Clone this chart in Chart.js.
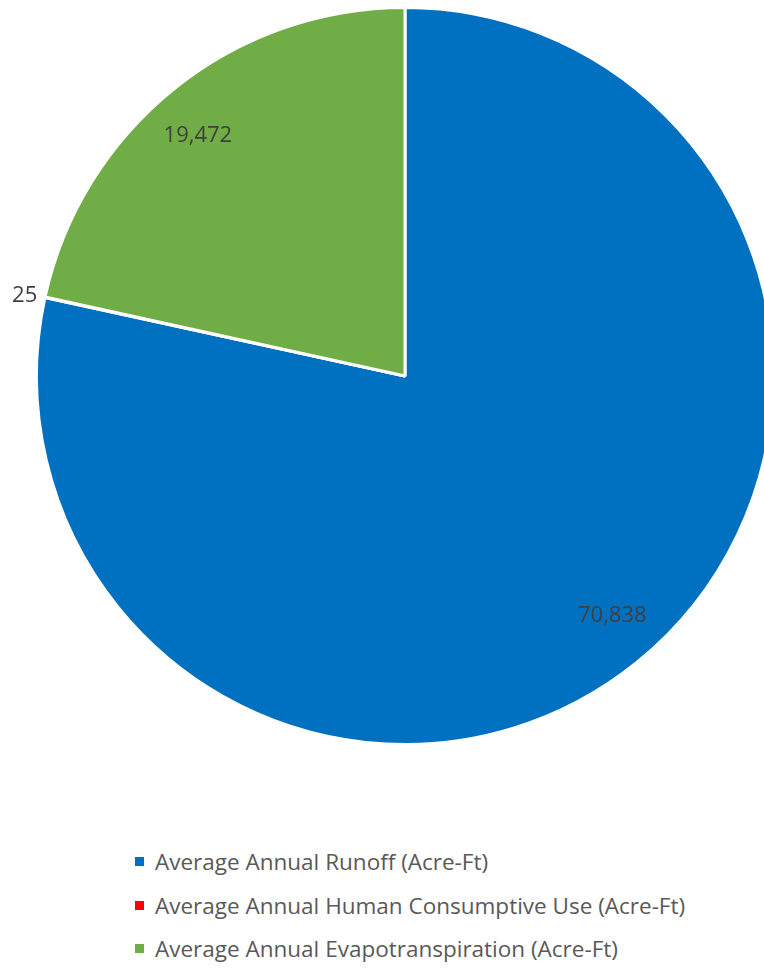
<!DOCTYPE html>
<html>
<head>
<meta charset="utf-8">
<script src="https://cdn.jsdelivr.net/npm/chart.js@4"></script>
<style>
    html, body { margin: 0; padding: 0; background: #fff; overflow: hidden; }
    body { width: 764px; height: 972px; position: relative; }
    #chartBox { position: absolute; left: 0; top: 0; width: 810px; height: 760px; }
    #legend { position: absolute; left: 135px; top: 840px; font-family: "Open Sans", sans-serif; font-size: 22.5px; color: #595959; }
    .item { height: 43.5px; display: flex; align-items: center; white-space: nowrap; }
    .box { width: 9px; height: 9px; margin-right: 11px; }
</style>
</head>
<body>
<div id="chartBox"><canvas id="pieChart"></canvas></div>
<div id="legend"></div>
<script>
// Chart data
const categories = [
    'Average Annual Runoff (Acre-Ft)',
    'Average Annual Human Consumptive Use (Acre-Ft)',
    'Average Annual Evapotranspiration (Acre-Ft)'
];
const values = [70838, 25, 19472];
const colors = ['#0070C0', '#FF0000', '#70AD47'];

// Draw the value labels, small slices go outside the pie
const valueLabels = {
    id: 'valueLabels',
    afterDatasetsDraw(chart) {
        const ctx = chart.ctx;
        const meta = chart.getDatasetMeta(0);
        ctx.save();
        ctx.font = '22px "Open Sans", sans-serif';
        ctx.fillStyle = '#404040';
        ctx.textBaseline = 'middle';
        meta.data.forEach((arc, i) => {
            const p = arc.getProps(['x', 'y', 'startAngle', 'endAngle', 'outerRadius'], true);
            let mid = (p.startAngle + p.endAngle) / 2;
            const text = values[i].toLocaleString('en-US');
            let r, align;
            if (p.endAngle - p.startAngle < 0.2) {
                r = p.outerRadius + 8;
                align = Math.cos(mid) < 0 ? 'right' : 'left';
            } else {
                // slightly counter-clockwise, like the spreadsheet's best fit
                mid -= 0.035;
                r = p.outerRadius * 0.86;
                align = 'center';
            }
            ctx.textAlign = align;
            ctx.fillText(text, p.x + Math.cos(mid) * r, p.y + Math.sin(mid) * r);
        });
        ctx.restore();
    }
};

function buildLegend() {
    const legend = document.getElementById('legend');
    categories.forEach((name, i) => {
        const row = document.createElement('div');
        row.className = 'item';
        row.innerHTML = `<span class="box" style="background:${colors[i]}"></span>${name}`;
        legend.appendChild(row);
    });
}

function createChart() {
    new Chart(document.getElementById('pieChart'), {
        type: 'pie',
        data: {
            labels: categories,
            datasets: [{
                data: values,
                backgroundColor: colors,
                borderColor: '#ffffff',
                borderWidth: 3
            }]
        },
        options: {
            responsive: true,
            maintainAspectRatio: false,
            animation: false,
            layout: {
                padding: { left: 35, right: 35, top: 6, bottom: 14 }
            },
            plugins: {
                legend: { display: false },
                tooltip: { enabled: false }
            }
        },
        plugins: [valueLabels]
    });
    buildLegend();
}

document.addEventListener('DOMContentLoaded', createChart);
</script>
</body>
</html>
